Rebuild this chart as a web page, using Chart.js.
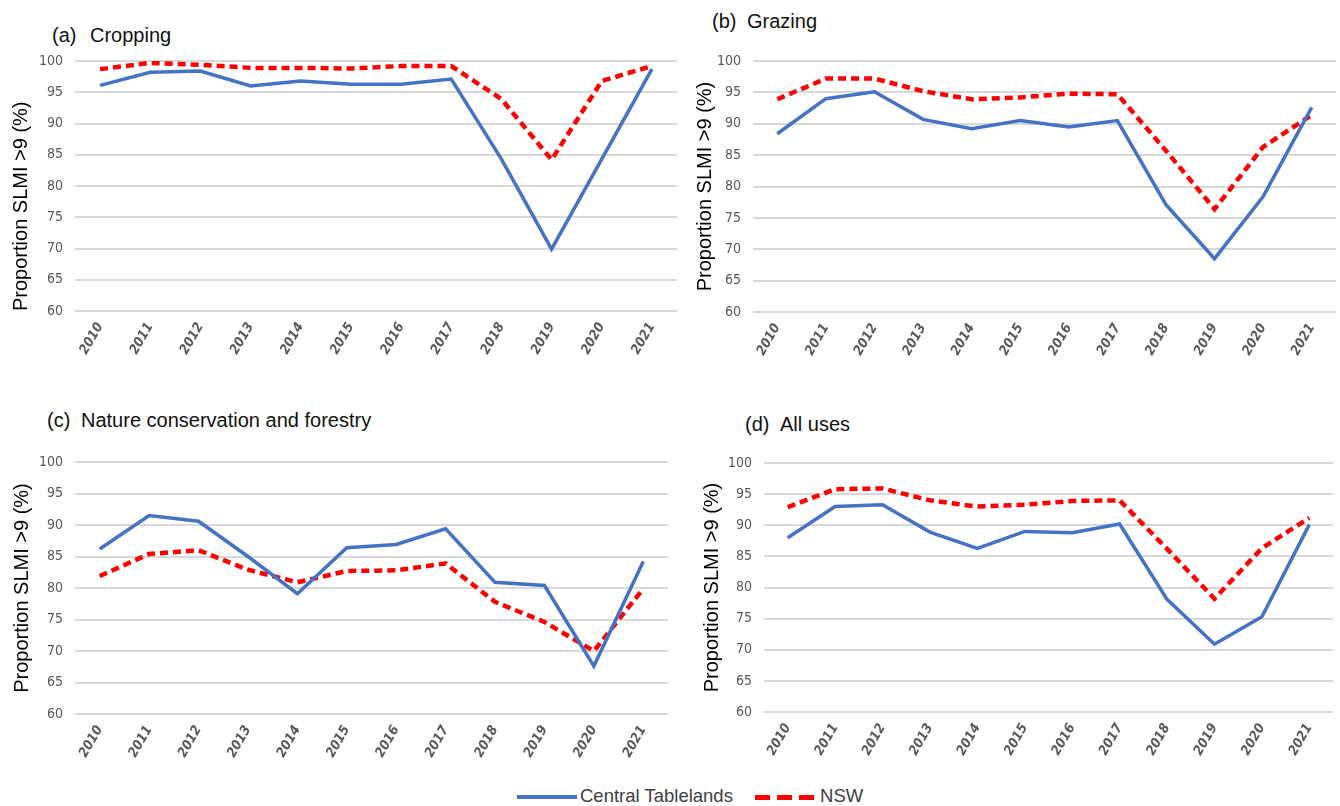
<!DOCTYPE html>
<html>
<head>
<meta charset="utf-8">
<script src="https://cdn.jsdelivr.net/npm/chart.js@4/dist/chart.umd.min.js"></script>
<style>
  body { margin: 0; background: #fff; width: 1340px; height: 806px; position: relative; overflow: hidden; font-family: 'Liberation Sans', Arial, sans-serif; }
  .panel { position: absolute; }
  .ptitle { position: absolute; font-size: 20px; color: #111; white-space: nowrap; }
  .ptitle span { display: inline-block; }
  #legend { position: absolute; left: 517px; top: 785px; font-size: 18.5px; color: #404040; white-space: nowrap; }
  .lg { display: inline-block; vertical-align: middle; width: 60px; }
</style>
</head>
<body>

<div class="ptitle" style="left:52px; top:24px;"><span style="width:38px">(a)</span>Cropping</div>
<div class="ptitle" style="left:712px; top:10px;"><span style="width:35px">(b)</span>Grazing</div>
<div class="ptitle" style="left:47px; top:409px;"><span style="width:34px">(c)</span>Nature conservation and forestry</div>
<div class="ptitle" style="left:745px; top:413px;"><span style="width:35px">(d)</span>All uses</div>

<div class="panel" style="left:0px; top:40px; width:677px; height:332px;"><canvas id="chartA"></canvas></div>
<div class="panel" style="left:680px; top:40px; width:656px; height:332px;"><canvas id="chartB"></canvas></div>
<div class="panel" style="left:0px; top:440px; width:668px; height:332px;"><canvas id="chartC"></canvas></div>
<div class="panel" style="left:690px; top:440px; width:643px; height:332px;"><canvas id="chartD"></canvas></div>

<div id="legend">
  <span class="lg" style="height:4px; background:#4472C4;"></span><span style="margin-left:3px;">Central Tablelands</span>
  <span class="lg" style="height:5px; margin-left:17px; background:repeating-linear-gradient(90deg, #FF0000 0 15px, transparent 15px 22px);"></span><span style="margin-left:5px;">NSW</span>
</div>

<script>
const years = ['2010', '2011', '2012', '2013', '2014', '2015', '2016', '2017', '2018', '2019', '2020', '2021'];

// (a) Cropping
const cropCT  = [96.1, 98.2, 98.4, 96.0, 96.8, 96.3, 96.3, 97.1, 84.3, 69.9, 84.3, 98.7];
const cropNSW = [98.7, 99.7, 99.4, 98.9, 98.9, 98.8, 99.2, 99.2, 93.9, 84.2, 96.8, 99.2];
// (b) Grazing
const grazCT  = [88.4, 94.0, 95.1, 90.7, 89.2, 90.5, 89.5, 90.5, 77.1, 68.5, 78.4, 92.6];
const grazNSW = [93.9, 97.2, 97.2, 95.2, 93.9, 94.2, 94.8, 94.7, 85.7, 76.4, 86.3, 91.4];
// (c) Nature conservation and forestry
const natCT   = [86.2, 91.5, 90.6, 85.0, 79.1, 86.4, 86.9, 89.4, 80.9, 80.4, 67.6, 84.2];
const natNSW  = [81.9, 85.4, 86.0, 82.9, 80.9, 82.7, 82.8, 83.9, 77.8, 74.6, 70.0, 79.9];
// (d) All uses
const allCT   = [88.0, 93.0, 93.3, 88.9, 86.3, 89.0, 88.8, 90.2, 78.1, 70.9, 75.3, 90.1];
const allNSW  = [92.9, 95.8, 95.9, 94.0, 93.0, 93.3, 93.9, 94.0, 86.2, 78.2, 86.3, 91.2];

const yMin = 60, yMax = 100, yStep = 5;
const yTitle = 'Proportion SLMI >9 (%)';
const seriesNames = ['Central Tablelands', 'NSW'];

const tickFont = "'Liberation Sans Narrow', 'DejaVu Sans Condensed', sans-serif";

function makePanel(id, ct, nsw, cfg) {
  new Chart(document.getElementById(id), {
    type: 'line',
    data: {
      labels: years,
      datasets: [{
        label: seriesNames[0],
        data: ct,
        borderColor: '#4472C4',
        borderWidth: 3.5,
        pointRadius: 0,
        tension: 0
      }, {
        label: seriesNames[1],
        data: nsw,
        borderColor: '#FF0000',
        borderWidth: 4.5,
        borderDash: [8, 5],
        pointRadius: 0,
        tension: 0
      }]
    },
    options: {
      responsive: true,
      maintainAspectRatio: false,
      animation: false,
      layout: { padding: { top: cfg.top, right: 0, left: 0, bottom: 0 } },
      plugins: { legend: { display: false }, tooltip: { enabled: false } },
      scales: {
        x: {
          offset: true,
          grid: { display: false, drawTicks: false },
          border: { display: false },
          ticks: {
            autoSkip: false,
            minRotation: 60,
            maxRotation: 60,
            padding: 9,
            color: '#595959',
            font: { family: tickFont, size: 13.5, style: 'italic', weight: 'bold' }
          },
          afterFit: (axis) => { axis.height = cfg.xh; }
        },
        y: {
          min: yMin,
          max: yMax,
          grid: { color: '#d9d9d9', lineWidth: 2, drawTicks: false },
          border: { display: false },
          ticks: {
            stepSize: yStep,
            padding: 12,
            color: '#595959',
            font: { family: tickFont, size: 14 }
          },
          title: {
            display: true,
            text: yTitle,
            align: cfg.align,
            color: '#000',
            padding: { top: cfg.tpad, bottom: 0 },
            font: { family: "'Liberation Sans', Arial, sans-serif", size: 20 }
          },
          afterFit: (axis) => { axis.width = cfg.yw; }
        }
      }
    }
  });
}

makePanel('chartA', cropCT, cropNSW, { top: 21, xh: 61, yw: 75, tpad: 9, align: 'start' });
makePanel('chartB', grazCT, grazNSW, { top: 21, xh: 60, yw: 73, tpad: 13, align: 'center' });
makePanel('chartC', natCT, natNSW, { top: 22, xh: 58, yw: 75, tpad: 10, align: 'center' });
makePanel('chartD', allCT, allNSW, { top: 23, xh: 60, yw: 74, tpad: 10, align: 'center' });
</script>
</body>
</html>
